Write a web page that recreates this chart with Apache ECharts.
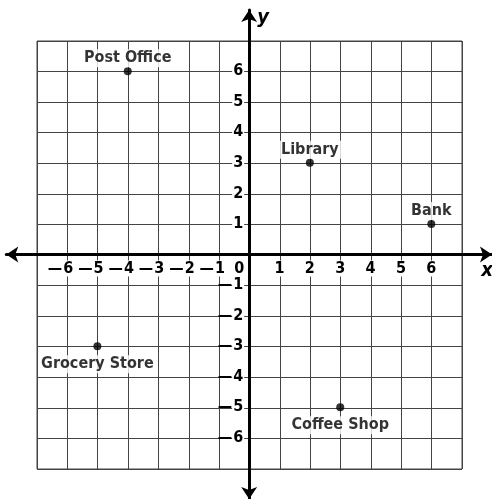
<!DOCTYPE html>
<html><head><meta charset="utf-8">
<script src="https://cdn.jsdelivr.net/npm/echarts@6/dist/echarts.min.js"></script>
<style>html,body{margin:0;padding:0;background:#fff}#c{width:492px;height:499px}</style>
</head><body><div id="c"></div>
<script>
// Places on the coordinate plane
const placeNames = ['Post Office', 'Library', 'Bank', 'Grocery Store', 'Coffee Shop'];
const placeX = [-4, 2, 6, -5, 3];
const placeY = [6, 3, 1, -3, -5];
// Grid squares span -7..7, axes (with arrows) reach -8..8, labels -6..6
const gridMin = -7, gridMax = 7;
const axisMin = -8, axisMax = 8;
const labelMax = 6;

const FONT = '"Liberation Sans Narrow", "DejaVu Sans Condensed", sans-serif';
const DASH = '\u2014';

function fmtX(v) {
  if (Math.abs(v) > labelMax) return '';
  if (v === 0) return '{n|0}{s0| }';
  if (v < 0) return '{d|' + DASH + '}{n|' + (-v) + '}{s| }';
  return '{n|' + v + '}';
}
function fmtY(v) {
  if (Math.abs(v) > labelMax || v === 0) return '';
  if (v < 0) return '{d|' + DASH + '}{n|' + (-v) + '}';
  return '{n|' + v + '}';
}

// grid B geometry (outer axes grid), same scale as grid A
const W = 492, H = 499;
const gB = { left: 6.3, right: 0, top: 10, bottom: 0 };
const gBw = W - gB.left - gB.right, gBh = H - gB.top - gB.bottom;
const xZeroOff = gBw * (0 - axisMin) / (axisMax - axisMin);
const yZeroOff = gBh * (axisMax - 0) / (axisMax - axisMin);

const chart = echarts.init(document.getElementById('c'), null, { renderer: 'canvas' });
const richTicks = {
  n: { color: '#000', fontFamily: FONT, fontWeight: 'bold', fontSize: 16, backgroundColor: '#fff', padding: [0, 1], lineHeight: 18 },
  d: { color: '#000', fontFamily: FONT, fontWeight: 'bold', fontSize: 16, lineHeight: 18 },
  s: { width: 12 },
  s0: { width: 20 }
};
const data = placeNames.map((n, i) => ({
  name: n,
  value: [placeX[i], placeY[i]],
  label: { position: placeY[i] >= 0 ? 'top' : 'bottom', distance: placeY[i] >= 0 ? 0 : 5 }
}));

chart.setOption({
  animation: false,
  backgroundColor: '#fff',
  grid: [
    { left: 37, right: 30, top: 41, bottom: 30, show: true, borderColor: '#444', borderWidth: 1,
      backgroundColor: 'transparent', containLabel: false, outerBoundsMode: 'none' },
    Object.assign({ containLabel: false, outerBoundsMode: 'none' }, gB)
  ],
  xAxis: [
    { gridIndex: 0, type: 'value', min: gridMin, max: gridMax, interval: 1,
      axisLine: { show: false }, axisTick: { show: false }, axisLabel: { show: false },
      splitLine: { show: true, lineStyle: { color: '#444', width: 1 } } },
    { gridIndex: 1, type: 'value', min: axisMin, max: axisMax, interval: 1, z: 1,
      position: 'bottom', offset: -(gBh - yZeroOff),
      axisLine: { onZero: false, lineStyle: { color: '#000', width: 3 }, symbol: ['arrow', 'arrow'], symbolSize: [12, 12] },
      axisTick: { show: false }, splitLine: { show: false },
      axisLabel: { formatter: fmtX, margin: 5, rich: richTicks },
      name: 'x', nameLocation: 'end', nameGap: -5,
      nameTextStyle: { color: '#000', fontFamily: FONT, fontWeight: 'bold', fontStyle: 'italic', fontSize: 20,
        align: 'center', verticalAlign: 'top', padding: [6, 0, 0, 0] } }
  ],
  yAxis: [
    { gridIndex: 0, type: 'value', min: gridMin, max: gridMax, interval: 1,
      axisLine: { show: false }, axisTick: { show: false }, axisLabel: { show: false },
      splitLine: { show: true, lineStyle: { color: '#444', width: 1 } } },
    { gridIndex: 1, type: 'value', min: axisMin, max: axisMax, interval: 1, z: 1,
      position: 'left', offset: -xZeroOff,
      axisLine: { onZero: false, lineStyle: { color: '#000', width: 3 }, symbol: ['arrow', 'arrow'], symbolSize: [12, 12] },
      axisTick: { show: false }, splitLine: { show: false },
      axisLabel: { formatter: fmtY, margin: 5, rich: richTicks },
      name: 'y', nameLocation: 'end', nameGap: -8,
      nameTextStyle: { color: '#000', fontFamily: FONT, fontWeight: 'bold', fontStyle: 'italic', fontSize: 20,
        align: 'left', verticalAlign: 'middle', padding: [0, 0, 0, 8] } }
  ],
  series: [{
    type: 'scatter', xAxisIndex: 1, yAxisIndex: 1, z: 3,
    symbolSize: 8, itemStyle: { color: '#000' },
    label: { show: true, formatter: '{b}', color: '#000', fontFamily: FONT, fontWeight: 'bold', fontSize: 16,
      backgroundColor: '#fff', padding: [1, 3] },
    data: data
  }]
});
</script></body></html>
